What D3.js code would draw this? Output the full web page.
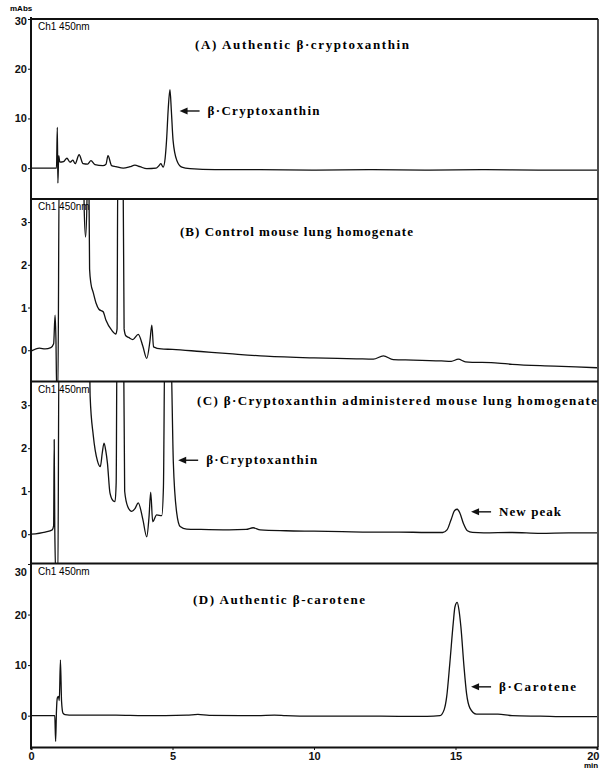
<!DOCTYPE html>
<html>
<head>
<meta charset="utf-8">
<script src="https://cdn.jsdelivr.net/npm/d3@7"></script>
<style>
  body { margin: 0; background: #fff; }
  svg { display: block; }
  .tick-lab { font-family: 'Liberation Sans Narrow', 'Liberation Sans', sans-serif; font-weight: bold; font-size: 11px; }
  .title { font-family: 'Liberation Serif', serif; font-weight: bold; font-size: 13px; }
  .chan { font-family: 'Liberation Sans Narrow', 'Liberation Sans', sans-serif; font-size: 10px; }
</style>
</head>
<body>
<svg id="chart" width="600" height="769"></svg>
<script>
/* chromatogram traces: [time (min), absorbance (mAbs)] */
const traceA = [
  [0, 0], [0.5, 0], [0.9, 0], [0.93, 8.2], [0.95, -3.0], [0.98, 2.5], [1.02, 1.2],
  [1.15, 1.3], [1.27, 2.0], [1.38, 1.2], [1.48, 1.6], [1.56, 0.9], [1.7, 2.7],
  [1.84, 0.9], [2.0, 0.8], [2.12, 1.5], [2.26, 0.7], [2.54, 0.5], [2.65, 0.8],
  [2.72, 2.5], [2.85, 0.5], [3.0, 0.3], [3.26, 0.0], [3.5, 0.3], [3.67, 0.6],
  [3.85, 0.3], [4.09, -0.1], [4.42, 0.0], [4.52, 0.5], [4.59, 0.9], [4.67, 0.2],
  [4.74, 2.0], [4.79, 5.6], [4.85, 12.0], [4.91, 15.8], [4.96, 11.5], [5.02, 5.6],
  [5.15, 1.6], [5.33, 0.2], [5.62, -0.1], [6.5, -0.3], [8, -0.3], [10, -0.4],
  [12, -0.3], [14, -0.4], [16, -0.3], [18, -0.4], [20, -0.4]
]
const traceB = [
  [0, -0.02], [0.3, 0.05], [0.5, 0.03], [0.7, 0.06], [0.8, 0.15], [0.85, 0.82],
  [0.88, 0.3], [0.91, -1.0], [0.95, -1.0], [1.0, 4.5], [1.5, 4.5], [1.85, 4.5],
  [1.88, 3.3], [1.93, 2.65], [1.98, 3.6], [2.0, 4.5], [2.04, 4.5], [2.07, 1.9],
  [2.12, 1.55], [2.2, 1.35], [2.3, 1.1], [2.4, 0.96], [2.55, 0.9], [2.65, 0.7],
  [2.85, 0.47], [3.0, 0.38], [3.04, 0.5], [3.07, 4.5], [3.25, 4.5], [3.29, 0.5],
  [3.35, 0.34], [3.45, 0.3], [3.6, 0.25], [3.79, 0.37], [3.95, 0.1], [4.09, -0.19],
  [4.2, 0.2], [4.27, 0.59], [4.33, 0.08], [4.6, 0.03], [5, 0.02], [6, -0.03],
  [7, -0.08], [8.3, -0.14], [10, -0.18], [11.5, -0.2], [12.1, -0.21], [12.45, -0.13],
  [12.8, -0.22], [13.5, -0.23], [14.5, -0.25], [14.85, -0.26], [15.1, -0.21],
  [15.35, -0.27], [16.5, -0.3], [17, -0.33], [18.5, -0.37], [20, -0.41]
]
const traceC = [
  [0, 0], [0.5, 0.05], [0.75, 0.1], [0.8, 0.2], [0.82, 2.2], [0.84, 0.15],
  [0.88, -1.0], [0.95, -1.0], [0.99, 4.5], [1.5, 4.5], [2.06, 4.5], [2.09, 3.2],
  [2.2, 2.3], [2.35, 1.7], [2.45, 1.57], [2.52, 1.9], [2.58, 2.12], [2.64, 1.95],
  [2.7, 1.66], [2.79, 0.96], [2.9, 0.78], [2.97, 0.76], [3.01, 1.2], [3.04, 4.5],
  [3.27, 4.5], [3.31, 1.0], [3.42, 0.64], [3.56, 0.53], [3.68, 0.6], [3.79, 0.73],
  [3.95, 0.35], [4.09, -0.06], [4.17, 0.4], [4.23, 0.98], [4.3, 0.29], [4.44, 0.45],
  [4.62, 0.43], [4.68, 1.1], [4.73, 4.5], [4.93, 4.5], [5.03, 1.66], [5.15, 0.49],
  [5.27, 0.18], [5.5, 0.12], [6, 0.11], [7, 0.1], [7.6, 0.11], [7.85, 0.15],
  [8.1, 0.1], [9, 0.08], [10, 0.07], [11, 0.06], [12, 0.05], [13, 0.05], [14, 0.04],
  [14.55, 0.04], [14.7, 0.1], [14.85, 0.35], [14.97, 0.55], [15.06, 0.58],
  [15.15, 0.5], [15.28, 0.25], [15.42, 0.08], [15.6, 0.04], [16, 0.03], [17, 0.04],
  [18, 0.02], [19, 0.03], [20, 0.03]
]
const traceD = [
  [0, 0], [0.5, 0], [0.84, 0], [0.87, -5.1], [0.9, 1.0], [0.93, 3.5], [0.97, 3.8],
  [1.0, 3.0], [1.04, 11.0], [1.08, 2.8], [1.13, 0.5], [1.2, 0.2], [1.5, 0.1],
  [3, 0.1], [4, 0.0], [5.5, 0.1], [5.9, 0.25], [6.3, 0.05], [8, 0.0], [8.6, 0.1],
  [9, 0.0], [10, -0.1], [12, -0.1], [14, -0.15], [14.45, 0.0], [14.6, 1.2],
  [14.69, 3.8], [14.8, 10.4], [14.92, 18.3], [14.98, 21.5], [15.06, 22.4],
  [15.12, 21.0], [15.19, 17.6], [15.3, 9.7], [15.39, 4.4], [15.51, 1.5],
  [15.74, 0.3], [16.5, 0.3], [17, 0.0], [18, -0.1], [19, -0.2], [20, -0.2]
]

/* y ranges and tick values for the four panels */
const yDomains = [[-6.2, 30], [-0.72, 3.54], [-0.67, 3.54], [-6.2, 30]]
const yTicks = [[0, 10, 20, 30], [0, 1, 2, 3], [0, 1, 2, 3], [0, 10, 20, 30]]
const xTicks = [0, 5, 10, 15, 20]

/* panel titles and peak labels */
const titles = [
  '(A) Authentic β·cryptoxanthin',
  '(B) Control mouse lung homogenate',
  '(C) β·Cryptoxanthin administered mouse lung homogenate',
  '(D) Authentic β-carotene'
]
const peakLabels = [
  { panel: 0, t: 5.25, v: 11.5, text: 'β·Cryptoxanthin' },
  { panel: 2, t: 5.2, v: 1.72, text: 'β·Cryptoxanthin' },
  { panel: 2, t: 15.55, v: 0.52, text: 'New peak' },
  { panel: 3, t: 15.55, v: 5.7, text: 'β·Carotene' }
]

/* layout */
const left = 31
const right = 598
const panelTops = [19, 199, 382, 564]
const panelBottoms = [199, 381, 563, 747]
const titlePos = [[195, 49, 214], [180, 236, 233], [197, 405, 400], [193, 604, 172]]
const labelLen = [112, 111, 62, 77]

const svg = d3.select('#chart')

const xScale = d3.scaleLinear().domain([0, 20]).range([left, 597])

const traces = [traceA, traceB, traceC, traceD]

traces.forEach(function (trace, i) {
  const yScale = d3.scaleLinear().domain(yDomains[i]).range([panelBottoms[i], panelTops[i]])

  /* clip the trace to its own panel */
  svg.append('clipPath')
    .attr('id', 'clip' + i)
    .append('rect')
    .attr('x', left)
    .attr('y', panelTops[i])
    .attr('width', right - left)
    .attr('height', panelBottoms[i] - panelTops[i])

  const line = d3.line()
    .x((d) => xScale(d[0]))
    .y((d) => yScale(d[1]))
    .curve(d3.curveMonotoneX)

  svg.append('path')
    .datum(trace)
    .attr('clip-path', `url(#clip${i})`)
    .attr('d', line)
    .attr('fill', 'none')
    .attr('stroke', '#111')
    .attr('stroke-width', 1.3)
    .attr('stroke-linejoin', 'round')

  /* y axis ticks + labels */
  const yAxis = d3.axisLeft(yScale)
    .tickValues(yTicks[i])
    .tickFormat(d3.format('d'))
    .tickSize(3)
    .tickPadding(1)
  const g = svg.append('g')
    .attr('transform', `translate(${left},0)`)
    .call(yAxis)
  g.select('.domain').remove()
  g.selectAll('.tick line').attr('stroke', '#111')
  g.selectAll('.tick text')
    .attr('class', 'tick-lab')
    .attr('fill', '#111')
    .attr('font-size', null)
    .attr('font-family', null)
  if (i === 3) {
    g.selectAll('.tick text').filter((d) => d === 30).attr('dy', '1.0em')
  }
  if (i === 0) {
    g.selectAll('.tick text').filter((d) => d === 30).attr('dy', '0.5em')
  }

  /* channel text */
  svg.append('text')
    .attr('class', 'chan')
    .attr('x', 38)
    .attr('y', panelTops[i] + 11)
    .text('Ch1 450nm')

  /* panel title */
  svg.append('text')
    .attr('class', 'title')
    .attr('x', titlePos[i][0])
    .attr('y', titlePos[i][1])
    .attr('textLength', titlePos[i][2])
    .attr('lengthAdjust', 'spacing')
    .text(titles[i])

  /* peak annotations: arrow pointing left plus label */
  peakLabels.filter((p) => p.panel === i).forEach(function (p) {
    const k = peakLabels.indexOf(p)
    const ax = xScale(p.t)
    const ay = yScale(p.v)
    svg.append('line')
      .attr('x1', ax + 4).attr('y1', ay)
      .attr('x2', ax + 20).attr('y2', ay)
      .attr('stroke', '#111').attr('stroke-width', 1.4)
    svg.append('path')
      .attr('d', `M${ax},${ay} L${ax + 8},${ay - 3.5} L${ax + 8},${ay + 3.5} Z`)
      .attr('fill', '#111')
    svg.append('text')
      .attr('class', 'title')
      .attr('x', ax + 28)
      .attr('y', ay + 4)
      .attr('textLength', labelLen[k])
      .attr('lengthAdjust', 'spacing')
      .text(p.text)
  })
})

/* frame: left axis, right border, panel separators */
svg.append('line')
  .attr('x1', left).attr('x2', left).attr('y1', 17).attr('y2', 749)
  .attr('stroke', '#111').attr('stroke-width', 2)
svg.append('line')
  .attr('x1', right).attr('x2', right).attr('y1', 19).attr('y2', 747)
  .attr('stroke', '#111').attr('stroke-width', 1.5)
const seps = [19, 199, 381.5, 563.5]
svg.selectAll('line.sep')
  .data(seps)
  .enter()
  .append('line')
  .attr('class', 'sep')
  .attr('x1', left).attr('x2', right)
  .attr('y1', (d) => d).attr('y2', (d) => d)
  .attr('stroke', '#111').attr('stroke-width', 1.8)

/* x axis */
const xAxis = d3.axisBottom(xScale).tickValues(xTicks).tickSize(3).tickPadding(2)
const gx = svg.append('g')
  .attr('transform', 'translate(0,747)')
  .call(xAxis)
gx.select('.domain').attr('stroke', '#111').attr('stroke-width', 2)
gx.selectAll('.tick line').attr('stroke', '#111')
gx.selectAll('.tick text')
  .attr('class', 'tick-lab')
  .attr('fill', '#111')
  .attr('font-size', null)
  .attr('font-family', null)
gx.selectAll('.tick text').filter((d) => d === 20)
  .attr('text-anchor', 'end')
  .attr('x', 2)

/* units */
svg.append('text')
  .attr('class', 'tick-lab')
  .attr('x', 10)
  .attr('y', 11)
  .style('font-size', '8px')
  .text('mAbs')
svg.append('text')
  .attr('class', 'tick-lab')
  .attr('x', 584)
  .attr('y', 768)
  .style('font-size', '8px')
  .text('min')
</script>
</body>
</html>
